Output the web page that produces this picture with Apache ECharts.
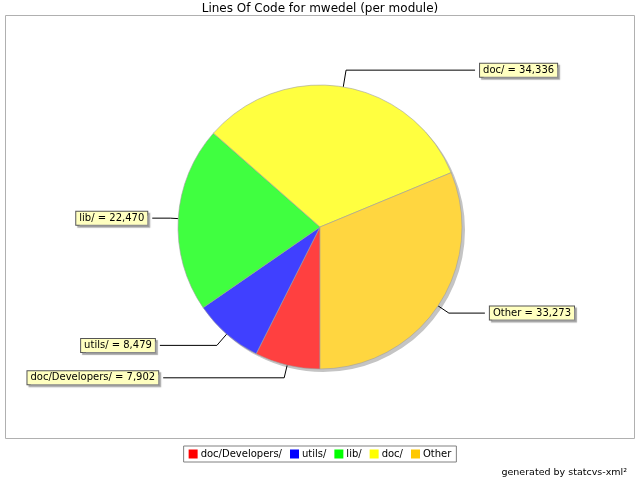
<!DOCTYPE html>
<html>
<head>
<meta charset="utf-8">
<script src="https://cdn.jsdelivr.net/npm/echarts@6/dist/echarts.min.js"></script>
<style>html,body{margin:0;padding:0;background:#fff}#c{width:640px;height:480px}</style>
</head>
<body>
<div id="c"></div>
<script>
var categories = ['doc/Developers/', 'utils/', 'lib/', 'doc/', 'Other'];
var values = [7902, 8479, 22470, 34336, 33273];
var titleText = 'Lines Of Code for mwedel (per module)';
var footerText = 'generated by statcvs-xml\u00b2';

var sliceColors = ['#FF4040', '#4040FF', '#40FF40', '#FFFF40', '#FFD640'];
var legendColors = ['#FF0000', '#0000FF', '#00FF00', '#FFFF00', '#FFC800'];
var lineLen = [13, 15, 8, 17, 13];
var lineLen2 = [121, 57, 18, 129, 36];

function fmt(n) { return String(n).replace(/\B(?=(\d{3})+(?!\d))/g, ','); }

var chart = echarts.init(document.getElementById('c'), null, {renderer: 'canvas'});
var font = 'DejaVu Sans, Lucida Sans, sans-serif';

var pieData = categories.map(function (c, i) {
  return {
    name: c, value: values[i],
    itemStyle: {color: sliceColors[i]},
    labelLine: {length: lineLen[i], length2: lineLen2[i]}
  };
});
var shadowData = categories.map(function (c, i) { return {name: c, value: values[i]}; });

chart.setOption({
  backgroundColor: '#ffffff',
  animation: false,
  title: [
    {text: titleText, left: 'center', top: -2, textStyle: {fontSize: 12, fontWeight: 'normal', color: '#000', fontFamily: font}},
    {text: footerText, right: 8, top: 463, textStyle: {fontSize: 9.5, fontWeight: 'normal', color: '#000', fontFamily: font}}
  ],
  graphic: [
    {type: 'rect', shape: {x: 5.5, y: 15.5, width: 629, height: 423}, style: {fill: 'none', stroke: '#b0b0b0', lineWidth: 1}, z: -1}
  ],
  legend: {
    top: 446, left: 'center', orient: 'horizontal',
    data: categories.map(function (c, i) { return {name: c, itemStyle: {color: legendColors[i]}}; }),
    icon: 'rect', itemWidth: 9, itemHeight: 9, itemGap: 8,
    borderColor: '#808080', borderWidth: 1, padding: [3, 5],
    textStyle: {fontSize: 10, color: '#000', fontFamily: font, padding: [0, 0, 0, -2]}
  },
  series: [{
    type: 'pie',
    name: 'shadow',
    center: [323, 230],
    radius: [0, 142],
    startAngle: 270,
    clockwise: true,
    silent: true,
    z: 1,
    data: shadowData,
    itemStyle: {color: '#c4c4c4', borderWidth: 0},
    label: {show: false},
    labelLine: {show: false},
    emphasis: {disabled: true}
  }, {
    type: 'pie',
    name: 'Lines Of Code',
    center: [320, 227],
    radius: [0, 142],
    startAngle: 270,
    clockwise: true,
    avoidLabelOverlap: false,
    z: 2,
    data: pieData,
    itemStyle: {borderColor: '#a0a0a0', borderWidth: 0.6},
    label: {
      show: true, position: 'outside', alignTo: 'none',
      formatter: function (p) { return p.name + ' = ' + fmt(p.value); },
      fontSize: 10, fontFamily: font, color: '#000',
      backgroundColor: '#FFFFC0', borderColor: '#555', borderWidth: 1,
      padding: [2, 3, 1, 3],
      shadowColor: 'rgba(151,151,151,0.8)', shadowOffsetX: 2, shadowOffsetY: 2, shadowBlur: 1
    },
    labelLine: {show: true, smooth: false, lineStyle: {color: '#000', width: 1}},
    emphasis: {disabled: true}
  }]
});
</script>
</body>
</html>
